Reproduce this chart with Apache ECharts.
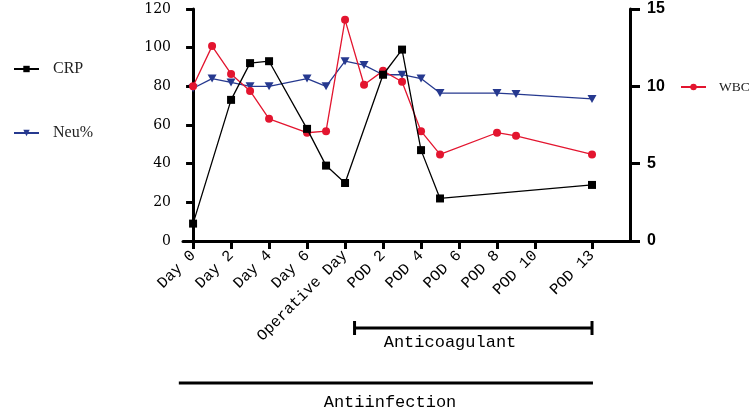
<!DOCTYPE html>
<html>
<head>
<meta charset="utf-8">
<script src="https://cdn.jsdelivr.net/npm/echarts@6/dist/echarts.min.js"></script>
<style>
html,body{margin:0;padding:0;background:#fff;}
#main{width:750px;height:413px;}
</style>
</head>
<body>
<div id="main"></div>
<script>
// ---- data ----
const tickDays   = [0, 2, 4, 6, 8, 10, 12, 14, 16, 18, 21];
const tickLabels = ['Day 0','Day 2','Day 4','Day 6','Operative Day','POD 2','POD 4','POD 6','POD 8','POD 10','POD 13'];

const crpDays   = [0, 2, 3, 4, 6, 7, 8, 10, 11, 12, 13, 21];
const crpValues = [9, 73, 92, 93, 58, 39, 30, 86, 99, 47, 22, 29];

const neuDays   = [0, 1, 2, 3, 4, 6, 7, 8, 9, 10, 11, 12, 13, 16, 17, 21];
const neuValues = [79, 84, 82, 80, 80, 84, 80, 93, 91, 86, 86, 84, 76.5, 76.5, 76, 73.5];

const wbcDays   = [0, 1, 2, 3, 4, 6, 7, 8, 9, 10, 11, 12, 13, 16, 17, 21];
const wbcValues = [10.0, 12.6, 10.8, 9.7, 7.9, 7.0, 7.1, 14.3, 10.1, 11.0, 10.3, 7.1, 5.6, 7.0, 6.8, 5.6];

const anticoagulantSpan = [8.5, 21];
const antiinfectionSpan = [-0.75, 21.05];

const zip = (xs, ys) => xs.map((x, i) => [x, ys[i]]);

const chart = echarts.init(document.getElementById('main'));
const serif = 'DejaVu Serif';
const mono = 'Liberation Mono';

chart.setOption({
  animation: false,
  backgroundColor: '#fff',
  grid: { left: 183, right: 120, top: 9, bottom: 172 },
  legend: [
    { data: ['CRP'], left: 8, top: 56, itemWidth: 25, itemHeight: 8,
      textStyle: { fontFamily: 'Liberation Serif', fontSize: 16, color: '#222', padding: [0,0,0,9] } },
    { data: ['Neu%'], left: 8, top: 120, itemWidth: 25, itemHeight: 8,
      textStyle: { fontFamily: 'Liberation Serif', fontSize: 16, color: '#222', padding: [0,0,0,9] } },
    { data: ['WBC'], left: 675, top: 75, itemWidth: 25, itemHeight: 8,
      textStyle: { fontFamily: 'Liberation Serif', fontSize: 13.5, color: '#222', padding: [0,0,0,8] } }
  ],
  xAxis: {
    type: 'value', min: -0.53, max: 23.0,
    splitLine: { show: false },
    axisLine: { show: true, onZero: false, lineStyle: { color: '#000', width: 3 } },
    axisTick: { show: true, length: 8, lineStyle: { color: '#000', width: 3 }, customValues: tickDays },
    axisLabel: {
      customValues: tickDays, rotate: 45, margin: 12,
      fontFamily: mono, fontSize: 15.5, color: '#000',
      formatter: v => { const i = tickDays.indexOf(v); return i >= 0 ? tickLabels[i] : ''; }
    }
  },
  yAxis: [
    { type: 'value', min: 0, max: 120, interval: 20, position: 'left',
      splitLine: { show: false },
      axisLine: { show: true, lineStyle: { color: '#000', width: 3 } },
      axisTick: { show: true, length: 7, lineStyle: { color: '#000', width: 3 } },
      axisLabel: { margin: 12, fontFamily: serif, fontSize: 14, color: '#000' } },
    { type: 'value', min: 0, max: 15, interval: 5, position: 'right',
      splitLine: { show: false },
      axisLine: { show: true, lineStyle: { color: '#000', width: 3 } },
      axisTick: { show: true, length: 10, lineStyle: { color: '#000', width: 3 } },
      axisLabel: { margin: 17, fontFamily: 'Liberation Sans', fontWeight: 'bold', fontSize: 16, color: '#000' } }
  ],
  series: [
    { name: 'CRP', type: 'line', yAxisIndex: 0, data: zip(crpDays, crpValues),
      symbol: 'rect', symbolSize: 8,
      lineStyle: { color: '#000', width: 1.3 }, itemStyle: { color: '#000' }, z: 3 },
    { name: 'Neu%', type: 'line', yAxisIndex: 0, data: zip(neuDays, neuValues),
      symbol: 'triangle', symbolRotate: 180, symbolSize: [9, 8],
      lineStyle: { color: '#26398f', width: 1.3 }, itemStyle: { color: '#26398f' }, z: 2 },
    { name: 'WBC', type: 'line', yAxisIndex: 1, data: zip(wbcDays, wbcValues),
      symbol: 'circle', symbolSize: 8,
      lineStyle: { color: '#e3152f', width: 1.3 }, itemStyle: { color: '#e3152f' }, z: 2 }
  ]
});

function px(d) { return chart.convertToPixel({ xAxisIndex: 0 }, d); }
const a1 = px(anticoagulantSpan[0]), a2 = px(anticoagulantSpan[1]);
const b1 = px(antiinfectionSpan[0]), b2 = px(antiinfectionSpan[1]);
const lineStyle = { stroke: '#000', lineWidth: 3 };
chart.setOption({
  graphic: [
    { type: 'line', shape: { x1: a1, y1: 328, x2: a2, y2: 328 }, style: lineStyle },
    { type: 'line', shape: { x1: a1, y1: 321, x2: a1, y2: 335 }, style: lineStyle },
    { type: 'line', shape: { x1: a2, y1: 321, x2: a2, y2: 335 }, style: lineStyle },
    { type: 'text', x: 450, y: 342, style: { text: 'Anticoagulant', font: '17px "Liberation Mono"', fill: '#000', textAlign: 'center', textVerticalAlign: 'middle' } },
    { type: 'line', shape: { x1: b1, y1: 383, x2: b2, y2: 383 }, style: lineStyle },
    { type: 'text', x: 390, y: 402, style: { text: 'Antiinfection', font: '17px "Liberation Mono"', fill: '#000', textAlign: 'center', textVerticalAlign: 'middle' } }
  ]
});
</script>
</body>
</html>
